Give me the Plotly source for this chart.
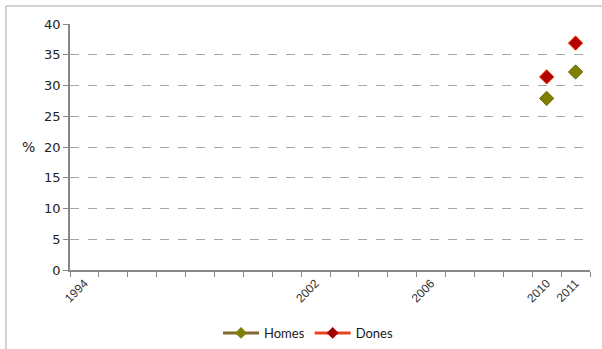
import plotly.graph_objects as go

# Category axis labels (blank categories carry no label)
tick_labels = ["1994", "", "", "", "", "", "", "", "2002", "", "", "",
               "2006", "", "", "", "2010", "2011"]

years = ["2010", "2011"]
homes = [27.9, 32.2]
dones = [31.4, 36.9]

y_ticks = [0, 5, 10, 15, 20, 25, 30, 35, 40]

x_pos = [tick_labels.index(y) for y in years]
lab_pos = [i for i, t in enumerate(tick_labels) if t]
lab_txt = [tick_labels[i] for i in lab_pos]

fig = go.Figure()

fig.add_trace(go.Scatter(
    x=x_pos, y=homes, mode="markers", name="Homes", showlegend=False,
    marker=dict(symbol="diamond", size=11, color="#7F7F00",
                line=dict(color="#6B6B10", width=1))))
fig.add_trace(go.Scatter(
    x=x_pos, y=dones, mode="markers", name="Dones", showlegend=False,
    marker=dict(symbol="diamond", size=11, color="#B00000",
                line=dict(color="#FF3300", width=1))))

# legend entries (line + marker, as in the original legend)
fig.add_trace(go.Scatter(
    x=[None], y=[None], mode="lines+markers", name="Homes",
    line=dict(color="#80692A", width=3),
    marker=dict(symbol="diamond", size=9, color="#7F7F00")))
fig.add_trace(go.Scatter(
    x=[None], y=[None], mode="lines+markers", name="Dones",
    line=dict(color="#E8431A", width=3),
    marker=dict(symbol="diamond", size=9, color="#A00000")))

fig.update_layout(
    width=602, height=349,
    margin=dict(l=70, r=12, t=24, b=79, autoexpand=False),
    paper_bgcolor="white", plot_bgcolor="white",
    showlegend=True,
    legend=dict(orientation="h", x=308 / 602, xanchor="center", xref="container",
                y=(349 - 333) / 349, yanchor="middle", yref="container",
                font=dict(family="Lato, Liberation Sans, sans-serif", size=13, color="#1a1a1a"),
                itemwidth=36, tracegroupgap=0),
    xaxis=dict(
        range=[-0.5, len(tick_labels) - 0.5], automargin=False,
        tickmode="array", tickvals=lab_pos, ticktext=lab_txt,
        ticks="", tickangle=-45,
        tickfont=dict(family="Liberation Sans, Arial, sans-serif", size=12, color="#333333"),
        showgrid=False, zeroline=False,
        showline=True, linecolor="#868686", linewidth=1.5,
        minor=dict(tick0=-0.5, dtick=1, ticks="outside", ticklen=5,
                   tickcolor="#868686", tickwidth=1, showgrid=False),
    ),
    yaxis=dict(
        range=[0, 40], tickmode="array", tickvals=y_ticks, automargin=False,
        ticks="outside", ticklen=5, tickcolor="#868686",
        tickfont=dict(family="DejaVu Sans, Verdana, sans-serif", size=13, color="#222222"),
        showgrid=True, gridcolor="#A6A6A6", griddash="dash", gridwidth=1,
        zeroline=False, showline=True, linecolor="#868686", linewidth=1.5,
    ),
    shapes=[dict(type="rect", xref="paper", yref="paper",
                 x0=(6 - 70) / 520, x1=(610 - 70) / 520,
                 y0=(349 - 360 - 79) / 246, y1=(349 - 6 - 79) / 246,
                 line=dict(color="#A6A6A6", width=1), layer="below")],
    annotations=[dict(text="%", xref="paper", yref="paper",
                      x=(28 - 70) / 520, y=(270 - 147) / 246,
                      xanchor="center", yanchor="middle", showarrow=False,
                      font=dict(family="DejaVu Sans, Verdana, sans-serif", size=14, color="#222222"))],
)

fig.write_html("out.html", config={"displayModeBar": False},
               post_script="document.body.style.margin='0';document.body.style.overflow='hidden';")
